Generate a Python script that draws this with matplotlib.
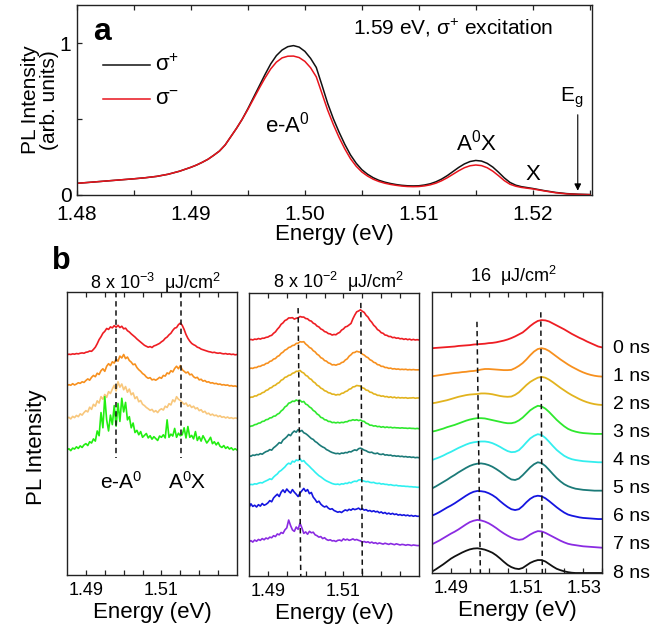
import numpy as np
import matplotlib
matplotlib.use("Agg")
import matplotlib.pyplot as plt
from matplotlib.ticker import FixedLocator, MultipleLocator, FixedFormatter
from matplotlib.transforms import blended_transform_factory

plt.rcParams['font.family'] = ['Liberation Sans', 'DejaVu Sans']
plt.rcParams['mathtext.fontset'] = 'custom'
plt.rcParams['mathtext.rm'] = 'Liberation Sans'
plt.rcParams['mathtext.it'] = 'Liberation Sans:italic'
plt.rcParams['mathtext.bf'] = 'Liberation Sans:bold'

# ---------------- panel a data ----------------
energy_a = [1.480, 1.481, 1.482, 1.483, 1.484, 1.485, 1.486, 1.487, 1.488, 1.489,
            1.490, 1.4905, 1.491, 1.4915, 1.492, 1.4925, 1.493, 1.4935, 1.494, 1.4945,
            1.495, 1.4955, 1.496, 1.4965, 1.497, 1.4975, 1.498, 1.4985, 1.499, 1.4995,
            1.500, 1.5005, 1.501, 1.5015, 1.502, 1.5025, 1.503, 1.5035, 1.504, 1.5045,
            1.505, 1.5055, 1.506, 1.5065, 1.507, 1.5075, 1.508, 1.5085, 1.509, 1.5095,
            1.510, 1.5105, 1.511, 1.5115, 1.512, 1.5125, 1.513, 1.5135, 1.514, 1.5145,
            1.515, 1.5155, 1.516, 1.5165, 1.517, 1.5175, 1.518, 1.5185, 1.519,
            1.520, 1.521, 1.522, 1.523, 1.524, 1.525]
sigma_plus = [0.077, 0.083, 0.089, 0.095, 0.101, 0.107, 0.114, 0.123, 0.137, 0.157,
              0.183, 0.198, 0.216, 0.236, 0.262, 0.290, 0.330, 0.385, 0.440, 0.500,
              0.570, 0.645, 0.720, 0.795, 0.865, 0.920, 0.957, 0.979, 0.986, 0.976,
              0.948, 0.902, 0.842, 0.725, 0.605, 0.503, 0.415, 0.335, 0.265, 0.210,
              0.167, 0.137, 0.114, 0.097, 0.085, 0.076, 0.069, 0.064, 0.061, 0.060,
              0.061, 0.066, 0.074, 0.087, 0.105, 0.128, 0.155, 0.182, 0.205, 0.221,
              0.228, 0.224, 0.209, 0.184, 0.150, 0.113, 0.083, 0.065, 0.055,
              0.043, 0.029, 0.017, 0.009, 0.005, 0.003]
sigma_minus = [0.077, 0.083, 0.089, 0.095, 0.101, 0.107, 0.114, 0.123, 0.137, 0.157,
               0.183, 0.198, 0.216, 0.236, 0.262, 0.290, 0.330, 0.385, 0.440, 0.500,
               0.565, 0.635, 0.705, 0.772, 0.832, 0.877, 0.905, 0.916, 0.917, 0.907,
               0.882, 0.840, 0.780, 0.670, 0.560, 0.465, 0.380, 0.305, 0.240, 0.190,
               0.152, 0.125, 0.104, 0.089, 0.078, 0.070, 0.064, 0.059, 0.056, 0.055,
               0.056, 0.060, 0.067, 0.078, 0.094, 0.114, 0.137, 0.160, 0.180, 0.193,
               0.198, 0.194, 0.180, 0.157, 0.127, 0.095, 0.071, 0.058, 0.050,
               0.040, 0.027, 0.015, 0.007, 0.004, 0.002]

# ---------------- panel b data (relative intensities x100) ----------------
energy_fine = np.round(np.linspace(1.485, 1.530, 91), 4)    # 0.5 meV sampling
energy_coarse = np.round(np.linspace(1.485, 1.530, 46), 4)  # 1 meV sampling

# panel b1: 8e-3 uJ/cm2
b1_colors = ['#ee1d23', '#f7901e', '#f8c77c', '#22ee11']
b1_red = [0, 2, 1, 3, 2, 4, 3, 5, 6, 5,
          8, 9, 12, 11, 17, 24, 35, 48, 57, 68,
          74, 83, 80, 88, 85, 92, 87, 93, 86, 90,
          82, 84, 76, 72, 66, 61, 56, 50, 45, 40,
          35, 30, 27, 24, 26, 23, 28, 30, 33, 36,
          41, 45, 52, 56, 63, 68, 77, 84, 86, 95,
          100, 93, 80, 64, 52, 43, 36, 32, 29, 24,
          22, 18, 16, 14, 12, 10, 9, 7, 8, 6,
          5, 6, 4, 3, 4, 2, 3, 1, 2, 0, 1]
b1_orange = [3, 6, 4, 9, 5, 8, 12, 10, 15, 13,
             19, 24, 20, 29, 35, 31, 42, 38, 50, 56,
             48, 64, 72, 66, 78, 74, 86, 80, 96, 90,
             101, 88, 93, 82, 77, 69, 71, 60, 53, 48,
             41, 37, 30, 26, 28, 21, 23, 20, 24, 29,
             26, 35, 33, 43, 40, 50, 46, 57, 64, 56,
             66, 53, 48, 43, 46, 37, 39, 31, 27, 29,
             21, 23, 17, 19, 14, 15, 11, 12, 9, 10,
             7, 8, 5, 6, 4, 5, 2, 3, 1, 2, 0]
b1_peach = [0, 3, -2, 6, 2, 9, 5, 14, 10, 18,
            24, 20, 35, 28, 44, 38, 55, 48, 68, 60,
            75, 66, 84, 78, 92, 104, 86, 115, 98, 108,
            90, 100, 82, 92, 74, 80, 62, 68, 52, 56,
            44, 40, 34, 30, 25, 28, 20, 24, 18, 26,
            30, 26, 38, 34, 46, 42, 58, 52, 68, 60,
            56, 50, 44, 48, 38, 42, 34, 38, 30, 33,
            24, 27, 19, 22, 14, 16, 10, 13, 8, 10,
            5, 8, 3, 5, 1, 4, 0, 2, -1, 1, 0]
b1_green = [0, 4, -2, 6, 3, 10, 5, 13, 8, 16,
            20, 14, 26, 22, 35, 28, 60, 45, 118, 70,
            168, 95, 60, 110, 80, 140, 75, 147, 90, 163,
            120, 150, 95, 105, 70, 85, 55, 62, 48, 58,
            40, 46, 52, 38, 45, 34, 42, 36, 30, 44,
            40, 48, 38, 95, 40, 50, 44, 68, 40, 53,
            45, 48, 70, 38, 74, 40, 46, 35, 58, 30,
            42, 28, 45, 34, 22, 30, 40, 20, 26, 16,
            24, 12, 8, 14, 5, 10, 3, 7, 0, 4, 0]
b1_series = [b1_red, b1_orange, b1_peach, b1_green]
b1_offsets = [3, 2, 1, 0]

# panel b2: 8e-2 uJ/cm2
b2_colors = ['#ee1d23', '#f7901e', '#e2b31e', '#2ee82e', '#1b7a78', '#2ef0f0', '#1515e0', '#8a2be2']
b2_red = [0, 2, 0, 3, 2, 5, 3, 6, 6, 9,
          10, 14, 16, 23, 28, 37, 44, 54, 59, 67,
          70, 76, 76, 77, 72, 75, 76, 81, 79, 79,
          74, 73, 67, 65, 58, 55, 48, 45, 38, 35,
          29, 27, 22, 21, 17, 19, 18, 23, 26, 34,
          38, 45, 47, 52, 57, 73, 86, 97, 100, 104,
          99, 95, 85, 79, 68, 61, 51, 45, 36, 32,
          25, 23, 17, 16, 12, 12, 8, 9, 6, 7,
          4, 5, 2, 4, 1, 3, 0, 2, 0, 1, 0]
b2_orange = [0, 3, 2, 5, 5, 9, 9, 13, 14, 19,
             20, 26, 28, 34, 36, 43, 46, 54, 58, 65,
             68, 74, 76, 81, 82, 88, 89, 94, 93, 94,
             86, 81, 74, 71, 63, 59, 51, 47, 39, 36,
             29, 27, 21, 19, 14, 15, 13, 16, 17, 22,
             24, 31, 35, 44, 49, 56, 57, 61, 59, 58,
             51, 48, 42, 39, 32, 29, 23, 21, 15, 14,
             9, 9, 5, 5, 2, 3, 0, 1, -1, 0,
             -2, -1, -2, -1, -3, -2, -3, -2, -3, -3, -3]
b2_gold = [0, 3, 3, 7, 7, 12, 13, 18, 20, 26,
           28, 34, 36, 42, 44, 50, 53, 61, 64, 71,
           73, 78, 79, 85, 87, 92, 92, 95, 89, 86,
           78, 75, 67, 64, 56, 52, 44, 41, 34, 31,
           25, 23, 18, 17, 13, 13, 10, 12, 11, 16,
           17, 22, 24, 30, 32, 38, 39, 43, 42, 41,
           35, 33, 27, 26, 20, 19, 14, 13, 9, 9,
           6, 7, 4, 5, 2, 4, 1, 3, 0, 2,
           0, 1, 0, 1, -1, 0, 0, 1, -1, 0, 0]
b2_green = [0, 3, 4, 8, 9, 13, 14, 19, 20, 25,
            26, 31, 32, 37, 38, 44, 47, 55, 60, 69,
            73, 82, 84, 89, 88, 93, 90, 92, 86, 88,
            79, 76, 69, 65, 57, 53, 45, 41, 33, 31,
            25, 24, 19, 19, 15, 16, 14, 16, 14, 16,
            15, 18, 18, 22, 22, 25, 23, 25, 22, 24,
            20, 19, 13, 11, 6, 6, 3, 4, 1, 2,
            -1, 1, -2, 0, -2, -1, -3, -2, -3, -3,
            -4, -3, -4, -4, -5, -4, -5, -5, -6, -5, -6]
b2_teal = [1, -1, 3, 2, 5, 4, 8, 6, 11, 15,
           17, 22, 20, 28, 33, 39, 46, 44, 55, 60,
           66, 74, 70, 80, 86, 82, 91, 85, 88, 80,
           77, 72, 66, 60, 57, 50, 46, 40, 35, 31,
           28, 22, 19, 15, 12, 10, 8, 9, 7, 10,
           9, 12, 11, 15, 14, 18, 21, 19, 25, 27,
           24, 20, 18, 14, 12, 13, 9, 8, 10, 6,
           5, 7, 3, 4, 2, 3, 0, 1, -1, 0,
           -2, -1, -3, -2, -4, -3, -5, -4, -6, -5, -6]
b2_cyan = [0, 2, 1, 4, 3, 6, 8, 7, 11, 14,
           17, 21, 19, 27, 33, 38, 46, 50, 56, 62,
           70, 75, 72, 82, 79, 86, 84, 90, 81, 84,
           76, 70, 64, 57, 51, 44, 38, 32, 28, 23,
           18, 14, 11, 8, 5, 3, 2, 3, 1, 4,
           3, 6, 5, 9, 7, 11, 13, 12, 17, 18,
           15, 13, 11, 12, 9, 8, 9, 6, 5, 6,
           3, 4, 2, 2, 0, 1, -1, -2, -1, -3,
           -3, -4, -4, -5, -5, -6, -6, -7, -7, -8, -8]
b2_blue = [22, 35, 26, 30, 24, 32, 27, 36, 30, 33,
           38, 46, 42, 55, 62, 68, 60, 75, 83, 74,
           86, 78, 72, 84, 75, 68, 60, 72, 80, 88,
           78, 84, 70, 74, 58, 50, 40, 44, 34, 28,
           24, 27, 20, 16, 18, 12, 9, 6, 8, 5,
           10, 14, 11, 16, 13, 18, 15, 17, 20, 15,
           18, 13, 15, 10, 12, 8, 11, 7, 9, 4,
           7, 2, 5, 0, 3, -1, 2, -2, 0, -4,
           -2, -5, -3, -6, -4, -7, -5, -8, -6, -8, -8]
b2_purple = [4, 8, 3, 10, 6, 12, 9, 15, 11, 17,
             14, 20, 18, 25, 22, 31, 28, 36, 33, 45,
             52, 79, 60, 45, 40, 55, 47, 68, 52, 33,
             38, 30, 40, 35, 37, 28, 25, 20, 22, 15,
             18, 12, 9, 11, 7, 8, 5, 9, 10, 7,
             14, 10, 13, 9, 11, 14, 10, 12, 9, 7,
             3, 5, 2, 4, 0, 3, -1, 1, -3, 0,
             -2, -4, -1, -3, -5, -2, -4, -6, -3, -5,
             -7, -5, -6, -8, -6, -7, -9, -7, -8, -9, -9]
b2_series = [b2_red, b2_orange, b2_gold, b2_green, b2_teal, b2_cyan, b2_blue, b2_purple]
b2_offsets = [7, 6, 5, 4, 3, 2, 1, 0]

# panel b3: 16 uJ/cm2
b3_colors = ['#ee1d23', '#f7901e', '#e2b31e', '#2ee82e', '#33eeee', '#1b7a78', '#1515e0', '#8a2be2', '#111111']
b3_labels = ['0 ns', '1 ns', '2 ns', '3 ns', '4 ns', '5 ns', '6 ns', '7 ns', '8 ns']
b3_red = [0, 1, 2, 3, 4, 5, 6, 8, 9, 10, 11, 13, 14, 15, 16, 18, 19, 21, 24, 27,
          31, 36, 42, 49, 56, 67, 79, 89, 97, 100, 99, 95, 88, 81, 74, 67, 59, 51, 44, 37,
          31, 24, 18, 12, 6, 3]
b3_orange = [0, 2, 4, 6, 8, 10, 12, 13, 15, 16, 18, 19, 21, 24, 26, 26, 25, 24, 23, 22,
             22, 23, 29, 37, 47, 60, 75, 88, 97, 100, 97, 90, 80, 70, 60, 51, 42, 34, 27, 20,
             14, 9, 5, 2, 0, -1]
b3_gold = [4, 6, 9, 12, 15, 19, 23, 27, 30, 33, 35, 36, 37, 39, 39, 38, 36, 33, 30, 28,
           27, 28, 34, 43, 56, 69, 80, 88, 95, 98, 95, 88, 79, 69, 59, 50, 41, 33, 26, 19,
           13, 8, 4, 1, -1, -2]
b3_green = [3, 6, 10, 14, 19, 23, 27, 32, 37, 42, 46, 49, 51, 51, 50, 47, 44, 41, 38, 35,
            33, 33, 36, 43, 53, 66, 79, 88, 95, 93, 85, 73, 59, 45, 33, 22, 13, 7, 3, 0,
            -2, -3, -4, -5, -5, -5]
b3_cyan = [2, 7, 12, 18, 25, 31, 38, 45, 51, 57, 62, 65, 67, 68, 68, 66, 62, 56, 49, 41,
           34, 30, 31, 37, 50, 65, 79, 88, 94, 91, 81, 67, 52, 38, 27, 17, 10, 5, 2, 0,
           -2, -3, -4, -5, -6, -6]
b3_teal = [1, 8, 16, 24, 32, 41, 49, 58, 66, 74, 81, 86, 89, 90, 88, 84, 78, 70, 61, 51,
           41, 33, 31, 36, 48, 62, 76, 87, 94, 91, 81, 67, 52, 38, 26, 16, 9, 4, 0, -2,
           -4, -5, -6, -7, -7, -7]
b3_blue = [4, 10, 17, 25, 33, 40, 48, 57, 66, 75, 83, 89, 92, 91, 89, 84, 77, 68, 56, 45,
           35, 27, 24, 27, 38, 52, 64, 72, 75, 73, 66, 56, 45, 34, 24, 15, 8, 4, 1, -2,
           -4, -5, -6, -7, -8, -8]
b3_purple = [2, 9, 16, 24, 32, 40, 47, 55, 64, 73, 81, 86, 89, 87, 83, 77, 69, 60, 50, 41,
             33, 26, 21, 18, 20, 28, 37, 44, 49, 48, 43, 36, 29, 22, 15, 9, 4, 1, -1, -3,
             -5, -6, -7, -8, -9, -10]
b3_black = [5, 13, 22, 31, 41, 51, 59, 66, 73, 79, 84, 87, 88, 86, 83, 78, 72, 63, 52, 40,
            29, 21, 16, 14, 18, 27, 36, 42, 46, 46, 41, 32, 23, 15, 10, 6, 3, 1, 0, 0,
            0, 0, 0, 0, 0, 0]
b3_series = [b3_red, b3_orange, b3_gold, b3_green, b3_cyan, b3_teal, b3_blue, b3_purple, b3_black]
b3_offsets = [8, 7, 6, 5, 4, 3, 2, 1, 0]

# dashed guide lines (energy top, y top, energy bottom, y bottom)
b1_guides = [(1.4980, 4.98, 1.4980, -0.26), (1.5152, 4.98, 1.5152, -0.26)]
b2_guides = [(1.4980, 8.10, 1.4987, -1.14), (1.5146, 8.28, 1.5150, -1.14)]
b3_guides = [(1.4969, 8.94, 1.4978, 0.0), (1.5138, 9.28, 1.5142, 0.0)]

W, H = 650, 631
def fx(px):
    return px / W
def fy(py):
    return 1 - py / H

fig = plt.figure(figsize=(6.5, 6.31), dpi=100)

spine_col = '#222222'

# ---------------- panel a ----------------
axa = fig.add_axes([fx(77), fy(195), 515 / W, 190 / H])
axa.plot(energy_a, sigma_plus, color='#111111', lw=1.1)
axa.plot(energy_a, sigma_minus, color='#e8141c', lw=1.1)
axa.set_xlim(1.480, 1.5252)
axa.set_ylim(0, 1.254)
axa.xaxis.set_minor_locator(MultipleLocator(0.005))
axa.set_xticks([1.48, 1.49, 1.50, 1.51, 1.52])
axa.set_xticklabels(['1.48', '1.49', '1.50', '1.51', '1.52'])
axa.set_yticks([0, 0.5, 1])
axa.set_yticklabels(['0', '', '1'])
axa.tick_params(axis='both', which='both', direction='in', length=3.6, width=0.9,
                labelsize=15, top=True, color=spine_col)
axa.tick_params(axis='x', pad=7)
axa.tick_params(axis='y', pad=4)
axa.set_xlabel('Energy (eV)', fontsize=16)
axa.xaxis.set_label_coords(0.5, -0.155)
axa.set_ylabel('PL Intensity\n(arb. units)', fontsize=15, linespacing=1.0)
axa.yaxis.set_label_coords(-0.035, 0.5)
for s in axa.spines.values():
    s.set_color(spine_col)
    s.set_linewidth(1.0)

# legend drawn as in the original
axa.plot([0.05, 0.142], [0.684, 0.684], transform=axa.transAxes, color='#111111', lw=1.1)
axa.plot([0.05, 0.142], [0.505, 0.505], transform=axa.transAxes, color='#e8141c', lw=1.1)
axa.text(0.152, 0.684, 'σ$^{+}$', transform=axa.transAxes, fontsize=16, va='center', ha='left')
axa.text(0.152, 0.505, 'σ$^{-}$', transform=axa.transAxes, fontsize=16, va='center', ha='left')

axa.text(1.49846, 0.462, 'e-A$^{0}$', fontsize=16, ha='center', va='center')
axa.text(1.51504, 0.343, 'A$^{0}$X', fontsize=16, ha='center', va='center')
axa.text(1.5200, 0.132, 'X', fontsize=16, ha='center', va='center')
axa.text(1.52345, 0.645, 'E$_{\\mathrm{g}}$', fontsize=15, ha='center', va='center')
axa.annotate('', xy=(1.52395, 0.010), xytext=(1.52395, 0.548),
             arrowprops=dict(arrowstyle='-|>', color='k', lw=0.8, mutation_scale=10))
fig.text(fx(553), fy(27.5), '1.59 eV, σ$^{+}$ excitation', fontsize=15, ha='right', va='center')
fig.text(fx(102), fy(32), 'a', fontsize=23, fontweight='bold', ha='center', va='center')

# ---------------- panel b ----------------
def style_b(ax, majors, labels):
    ax.set_xlim(1.485, 1.530)
    ax.xaxis.set_major_locator(FixedLocator(majors))
    ax.xaxis.set_major_formatter(FixedFormatter(labels))
    ax.xaxis.set_minor_locator(FixedLocator([1.49, 1.495, 1.50, 1.505, 1.51, 1.515, 1.52, 1.525]))
    ax.tick_params(axis='x', which='both', direction='in', length=3.4, width=0.9,
                   labelsize=13, top=True, pad=5, color=spine_col)
    ax.set_yticks([])
    ax.set_xlabel('Energy (eV)', fontsize=16)
    ax.xaxis.set_label_coords(0.5, -0.095)
    for s in ax.spines.values():
        s.set_color(spine_col)
        s.set_linewidth(1.0)

ax1 = fig.add_axes([fx(67), fy(575), 170 / W, 283 / H])
ax2 = fig.add_axes([fx(249), fy(576), 170 / W, 283 / H])
ax3 = fig.add_axes([fx(432), fy(573), 170 / W, 281 / H])

for vals, off, col in zip(b1_series, b1_offsets, b1_colors):
    ax1.plot(energy_fine, np.array(vals) / 100.0 + off, color=col, lw=1.2)
for vals, off, col in zip(b2_series, b2_offsets, b2_colors):
    ax2.plot(energy_fine, np.array(vals) / 100.0 + off, color=col, lw=1.2)
for vals, off, col in zip(b3_series, b3_offsets, b3_colors):
    ax3.plot(energy_coarse, np.array(vals) / 100.0 + off, color=col, lw=1.3)

for ax, guides in ((ax1, b1_guides), (ax2, b2_guides), (ax3, b3_guides)):
    for e0, y0, e1, y1 in guides:
        ax.plot([e0, e1], [y0, y1], color='#111111', lw=1.1, ls=(0, (3.5, 2.5)))

ax1.set_ylim(-3.94, 4.98)
ax2.set_ylim(-1.14, 8.62)
ax3.set_ylim(0, 10)

style_b(ax1, [1.49, 1.51], ['1.49', '1.51'])
style_b(ax2, [1.49, 1.51], ['1.49', '1.51'])
style_b(ax3, [1.49, 1.51, 1.53], ['1.49', '1.51', '1.53'])
ax3.xaxis.get_major_ticks()[2].label1.set_horizontalalignment('right')

ax1.set_ylabel('PL Intensity', fontsize=16)
ax1.yaxis.set_label_coords(-0.115, 0.45)

ax1.text(1.4993, -1.01, 'e-A$^{0}$', fontsize=15, ha='center', va='center')
ax1.text(1.5169, -1.01, 'A$^{0}$X', fontsize=15, ha='center', va='center')

tr3 = blended_transform_factory(ax3.transAxes, ax3.transData)
for lbl, off in zip(b3_labels, b3_offsets):
    ax3.text(1.065, off, lbl, transform=tr3, fontsize=14, ha='left', va='center')

fig.text(fx(156), fy(283), '8 x 10$^{-3}$  μJ/cm$^{2}$', fontsize=13, ha='center', va='center')
fig.text(fx(339), fy(282), '8 x 10$^{-2}$  μJ/cm$^{2}$', fontsize=13, ha='center', va='center')
fig.text(fx(513), fy(276), '16  μJ/cm$^{2}$', fontsize=13, ha='center', va='center')
fig.text(fx(61), fy(261), 'b', fontsize=22, fontweight='bold', ha='center', va='center')

fig.savefig('out.png', dpi=100)
